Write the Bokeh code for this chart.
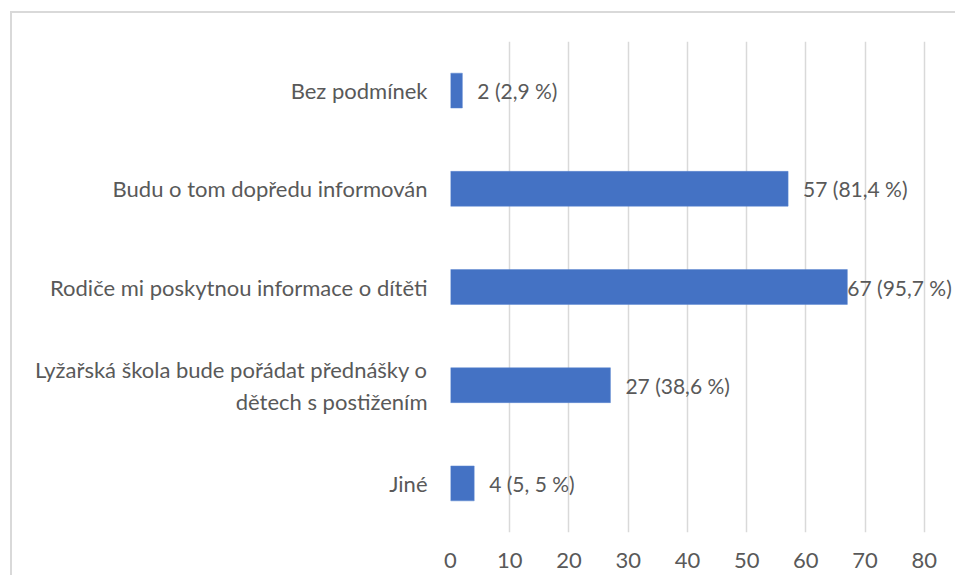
from bokeh.plotting import figure
from bokeh.models import ColumnDataSource, LabelSet, FactorRange, Range1d
from bokeh.core.properties import value
from bokeh.embed import file_html
from bokeh.resources import INLINE

categories = [
    "Bez podmínek",
    "Budu o tom dopředu informován",
    "Rodiče mi poskytnou informace o dítěti",
    "Lyžařská škola bude pořádat přednášky o\ndětech s postižením",
    "Jiné",
]
counts = [2, 57, 67, 27, 4]
value_labels = ["2 (2,9 %)", "57 (81,4 %)", "67 (95,7 %)", "27 (38,6 %)", "4 (5, 5 %)"]
x_ticks = [0, 10, 20, 30, 40, 50, 60, 70, 80]

label_offsets = [15, 15, 0, 15, 15]

FONT = "Lato"
FS = "22px"
VFS = "21px"
TXT = "#595959"

src = ColumnDataSource(dict(cat=categories, count=counts, lab=value_labels, dx=label_offsets))
multi = [c for c in categories if "\n" in c]
msrc = ColumnDataSource(dict(cat=multi, x=[0] * len(multi)))

p = figure(
    width=945, height=564,
    y_range=FactorRange(factors=categories[::-1], range_padding=0),
    x_range=Range1d(0, 85.6),
    output_backend="svg", toolbar_location=None,
    min_border_left=438, min_border_right=0, min_border_top=28, min_border_bottom=45,
)
p.styles = {"border-left": "2px solid #d9d9d9", "border-top": "2px solid #d9d9d9",
            "margin-left": "10px", "margin-top": "11px"}
p.outline_line_color = None
p.background_fill_color = "white"
p.border_fill_color = "white"

p.hbar(y="cat", right="count", left=0, height=0.355, source=src,
       fill_color="#4472C4", line_color="#5b86d0", line_width=0.5)

labels = LabelSet(x="count", y="cat", text="lab", x_offset="dx", source=src,
                  text_font=value(FONT), text_font_size=VFS, text_color=TXT,
                  text_baseline="middle", text_align="left")
p.add_layout(labels)

mlabels = LabelSet(x="x", y="cat", text="cat", x_offset=-222, source=msrc,
                   text_font=value(FONT), text_font_size=FS, text_color=TXT,
                   text_baseline="middle", text_align="center")
p.add_layout(mlabels)

p.ygrid.grid_line_color = None
p.xgrid.grid_line_color = "#d9d9d9"
p.xgrid.grid_line_width = 1.5
p.xgrid.ticker = x_ticks

p.xaxis.ticker = x_ticks
p.xaxis.axis_line_color = None
p.xaxis.major_tick_line_color = None
p.xaxis.minor_tick_line_color = None
p.xaxis.major_tick_out = 0
p.xaxis.major_label_standoff = 20
p.xaxis.major_label_text_font = FONT
p.xaxis.major_label_text_font_size = FS
p.xaxis.major_label_text_color = TXT

p.yaxis.axis_line_color = None
p.yaxis.major_tick_line_color = None
p.yaxis.major_tick_out = 0
p.yaxis.major_label_standoff = 23
p.yaxis.major_label_text_font = FONT
p.yaxis.major_label_text_font_size = FS
p.yaxis.major_label_text_color = TXT
p.yaxis.major_label_overrides = {c: "" for c in multi}

open("out.html", "w").write(file_html(p, INLINE))
